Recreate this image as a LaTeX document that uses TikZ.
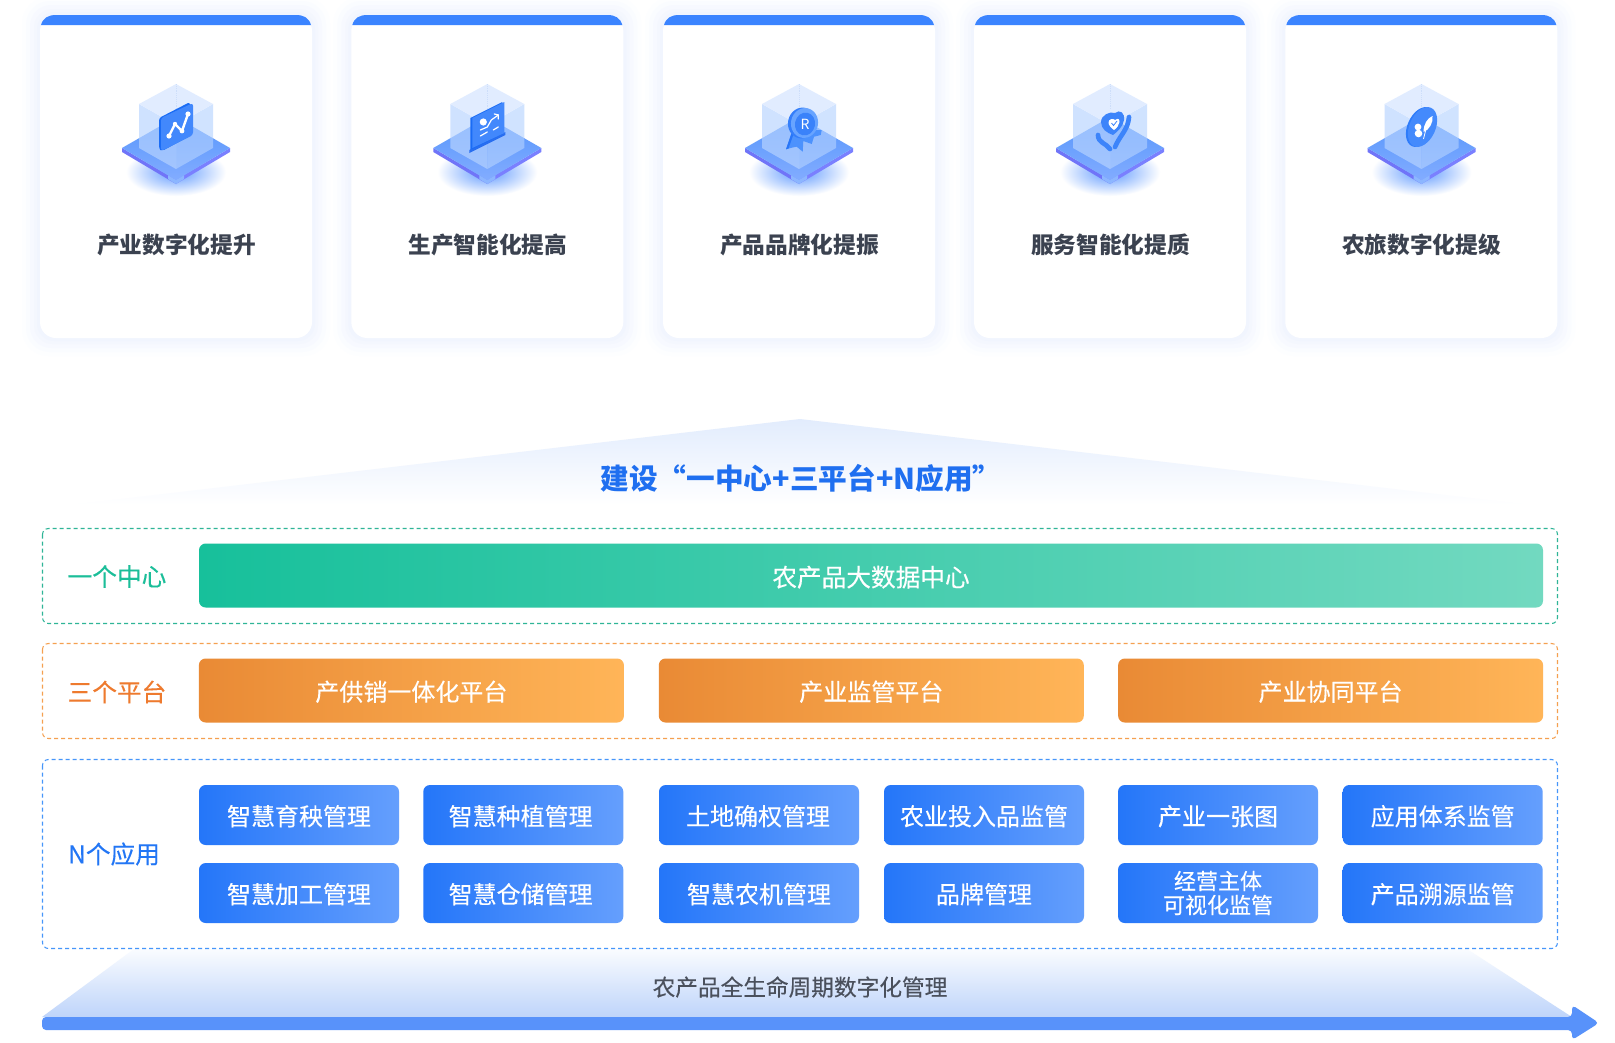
\documentclass[tikz,border=0pt]{standalone}
\usepackage{fontspec}
\setmainfont{Noto Sans CJK SC}
\newfontfamily\medfont{Noto Sans CJK SC}[FakeBold=0.25]
\pgfdeclareradialshading{plateglow}{\pgfpointorigin}{rgb(0bp)=(0.37,0.6,1); rgb(25bp)=(1,1,1); rgb(50bp)=(1,1,1)}
\newcommand{\cardbox}[1]{\begin{scope}[shift={(#1,0)}]
    \fill [fill={rgb, 255:red, 253; green, 254; blue, 255 }, rounded corners=20pt] (-18,-3) rectangle (290,356);
    \fill [fill={rgb, 255:red, 250; green, 252; blue, 255 }, rounded corners=18pt] (-14,1) rectangle (286,352);
    \fill [fill={rgb, 255:red, 247; green, 249; blue, 255 }, rounded corners=16pt] (-10,5) rectangle (282,348);
    \fill [fill={rgb, 255:red, 244; green, 247; blue, 254 }, rounded corners=14pt] (-6,9) rectangle (278,344);
    \fill [fill={rgb, 255:red, 241; green, 245; blue, 254 }, rounded corners=13pt] (-3,12) rectangle (275,341);
    \fill [white, rounded corners=12pt] (0,15) rectangle (272,338);
    \fill [fill={rgb, 255:red, 59; green, 132; blue, 255 }] (1,25) .. controls (3,18) and (8,15) .. (16,15) -- (256,15) .. controls (264,15) and (269,18) .. (271,25) -- cycle;
\end{scope}}
\newcommand{\isobase}[1]{\begin{scope}[shift={(#1,0)}]
    %Shape: plate shadow
    \shade [shading=plateglow] (0,172) ellipse (50 and 24);
    %Shape: plate
    \fill [fill={rgb, 255:red, 112; green, 116; blue, 248 }] (-54,148) -- (0,180) -- (0,184) -- (-54,152) -- cycle;
    \fill [fill={rgb, 255:red, 122; green, 128; blue, 255 }] (54,148) -- (0,180) -- (0,184) -- (54,152) -- cycle;
    \fill [fill={rgb, 255:red, 140; green, 182; blue, 255 }] (-8,175) -- (0,180) -- (8,175) -- (8,179) -- (0,184) -- (-8,179) -- cycle;
    \shade [top color={rgb, 255:red, 86; green, 150; blue, 252 }, bottom color={rgb, 255:red, 130; green, 172; blue, 255 }] (-54,148) -- (0,117) -- (54,148) -- (0,180) -- cycle;
    %Shape: cube faces
    \fill [fill={rgb, 255:red, 184; green, 212; blue, 255 }, fill opacity=0.67] (-37,104) -- (0,125) -- (0,169) -- (-37,148) -- cycle;
    \fill [fill={rgb, 255:red, 180; green, 210; blue, 255 }, fill opacity=0.62] (37,104) -- (0,125) -- (0,169) -- (37,148) -- cycle;
    \fill [fill={rgb, 255:red, 224; green, 236; blue, 255 }, fill opacity=0.95] (0,84) -- (37,104) -- (0,125) -- (-37,104) -- cycle;
    \draw [color={rgb, 255:red, 205; green, 222; blue, 250 }, densely dotted] (0,84) -- (0,110);
\end{scope}}
\newcommand{\charttile}[1]{\begin{scope}[shift={(#1,0)}]
    \fill [fill={rgb, 255:red, 26; green, 108; blue, 245 }, rounded corners=2pt] (-17,118) -- (14,102) -- (14,136) -- (-14,151) -- (-17,149) -- cycle;
    \fill [fill={rgb, 255:red, 66; green, 136; blue, 252 }, rounded corners=2pt] (-15,118) -- (17,103) -- (17,135) -- (-15,151) -- cycle;
    \draw [white, line width=1.8pt, line cap=round, line join=round] (-7,136) -- (-1,124) -- (6,131) -- (12,114);
    \fill [white] (-7,136) circle (2.6);
    \fill [white] (6,131) circle (2.4);
    \fill [white] (-1,124) circle (2.2);
    \fill [white] (12,114) circle (2.6);
\end{scope}}
\newcommand{\boardtile}[1]{\begin{scope}[shift={(#1,0)}]
    \fill [fill={rgb, 255:red, 40; green, 110; blue, 240 }] (-18,150) -- (18,132) -- (18,135) -- (-18,153) -- cycle;
    \fill [fill={rgb, 255:red, 26; green, 108; blue, 245 }] (-17,118) -- (15,102) -- (15,134) -- (-17,150) -- cycle;
    \fill [fill={rgb, 255:red, 66; green, 136; blue, 252 }] (-15,118) -- (17,102) -- (17,133) -- (-15,148) -- cycle;
    \fill [white] (-4,122) circle (3.6);
    \draw [white, line width=0.9pt, line cap=round, line join=round] (-7,130) -- (0,127) -- (4,120) -- (11,115);
    \draw [white, line width=0.9pt, line cap=round] (7,114) -- (11,115) -- (11,119);
    \draw [white, line width=0.9pt, line cap=round] (-7,136) -- (0,132);
    \draw [white, line width=0.9pt, line cap=round] (6,130) -- (11,127);
\end{scope}}
\newcommand{\medaltile}[1]{\begin{scope}[shift={(#1,0)}]
    \fill [fill={rgb, 255:red, 76; green, 146; blue, 253 }] (-13,149.3) -- (-5.7,130) -- (22.7,130) -- (21.7,135) -- (15,136.7) -- (12.7,144) -- (4.3,141) -- (3.7,151.7) -- (-2.3,146.7) -- (-7.3,147.7) -- cycle;
    \fill [fill={rgb, 255:red, 40; green, 118; blue, 248 }] (-13,149.3) -- (-6.5,130) -- (-4,130) -- (-10.5,148.5) -- cycle;
    \fill [fill={rgb, 255:red, 52; green, 126; blue, 250 }, rotate around={12:(3,123)}] (3,123) ellipse (14 and 15.5);
    \fill [fill={rgb, 255:red, 104; green, 164; blue, 255 }, rotate around={12:(5.5,123)}] (5.5,123) ellipse (13.5 and 15);
    \fill [fill={rgb, 255:red, 58; green, 130; blue, 250 }, rotate around={12:(6,124)}] (6,124) ellipse (10 and 11.5);
\end{scope}}
\newcommand{\hearttile}[1]{\begin{scope}[shift={(#1,0)}]
    \draw [color={rgb, 255:red, 60; green, 132; blue, 250 }, line width=3.5pt, line cap=round] (19,117) .. controls (18,130) and (10,135) .. (5,147);
    \draw [color={rgb, 255:red, 60; green, 132; blue, 250 }, line width=3.5pt, line cap=round] (-12,135) .. controls (-12,143) and (-4,143) .. (0,149);
    \fill [fill={rgb, 255:red, 60; green, 132; blue, 250 }] (5,113) .. controls (10,109) and (15,113) .. (14,120) .. controls (13,127) and (7,132) .. (3,135) .. controls (-3,133) and (-9,129) .. (-9,122) .. controls (-9,115) and (0,111) .. (5,113) -- cycle;
    \fill [white] (5,120) .. controls (6,118) and (10,118) .. (9.5,122) .. controls (9,125) and (7,128) .. (4,130) .. controls (1,128) and (-1.5,125) .. (-1.5,122.5) .. controls (-1.5,119) and (3,118) .. (5,120) -- cycle;
    \draw [color={rgb, 255:red, 60; green, 132; blue, 250 }, line width=0.6pt] (1.5,123) -- (3.5,125.5) -- (7,121);
\end{scope}}
\newcommand{\leaftile}[1]{\begin{scope}[shift={(#1,0)}]
    \fill [fill={rgb, 255:red, 46; green, 124; blue, 250 }, rotate around={24:(-1,127)}] (-1,127) ellipse (13 and 21);
    \fill [fill={rgb, 255:red, 68; green, 138; blue, 252 }, rotate around={24:(1,127)}] (1,127) ellipse (13 and 21);
    \draw [white, line width=0.6pt] (2,139) -- (5,127) -- (9,118);
    \fill [white] (2,132) .. controls (2,124) and (6,118) .. (11,116) .. controls (12,122) and (8,130) .. (2,132) -- cycle;
    \fill [white] (-3.5,127) circle (3.4);
    \fill [white] (-3,133.5) circle (3.8);
\end{scope}}
\tikzset{
  cardtitle/.style={font=\fontsize{17}{20}\selectfont\bfseries, text={rgb, 255:red, 59; green, 66; blue, 80 }, inner sep=0pt},
  layerlabel/.style={font=\fontsize{18.5}{22}\medfont, inner sep=0pt},
  databar/.style={rounded corners=5pt, inner sep=0pt, minimum height=48pt, text=white, font=\fontsize{18}{22}\medfont},
  oneline/.style={text height=15.5pt, text depth=0pt},
  greenbar/.style={databar, oneline, minimum width=1008pt, font=\fontsize{18.5}{22}\medfont, left color={rgb, 255:red, 23; green, 192; blue, 155 }, right color={rgb, 255:red, 114; green, 217; blue, 192 }},
  orangebar/.style={databar, oneline, minimum width=318.75pt, left color={rgb, 255:red, 233; green, 138; blue, 53 }, right color={rgb, 255:red, 255; green, 181; blue, 88 }},
  appbar/.style={databar, minimum width=150pt, minimum height=45pt, align=center, left color={rgb, 255:red, 36; green, 118; blue, 249 }, right color={rgb, 255:red, 101; green, 159; blue, 253 }},
  dashbox/.style={dash pattern=on 3pt off 2.25pt, line width=0.8pt, rounded corners=4.5pt},
}

\begin{document}
\begin{tikzpicture}[x=0.75pt,y=0.75pt,yscale=-1,xscale=1]
\useasboundingbox (0,0) rectangle (1615,1042);
\fill [white] (0,0) rectangle (1615,1042);

%Shape: Cards
\cardbox{40}
\cardbox{351.3}
\cardbox{663}
\cardbox{974}
\cardbox{1285.3}

%Shape: Icons
\isobase{176}
\charttile{176}
\isobase{487.3}
\boardtile{487.3}
\isobase{799}
\medaltile{799}
\isobase{1110}
\hearttile{1110}
\isobase{1421.5}
\leaftile{1421.5}

% Text Node
\draw (805,124) node (medalR) [text=white, inner sep=0pt, font=\fontsize{10.5}{12}\selectfont] {R};
% Text Node
\draw (176.5,245) node (titleA) [cardtitle] {产业数字化提升};
% Text Node
\draw (487.8,245) node (titleB) [cardtitle] {生产智能化提高};
% Text Node
\draw (799.5,245) node (titleC) [cardtitle] {产品品牌化提振};
% Text Node
\draw (1110.5,245) node (titleD) [cardtitle] {服务智能化提质};
% Text Node
\draw (1421.5,245) node (titleE) [cardtitle] {农旅数字化提级};

%Shape: Upper triangle
\shade [top color={rgb, 255:red, 226; green, 236; blue, 253 }, bottom color=white] (800,419) -- (1530,505) -- (70,505) -- cycle;
% Text Node
\draw (801,478) node (buildTitle) [inner sep=0pt, font=\fontsize{21.5}{25}\selectfont\bfseries, text={rgb, 255:red, 31; green, 111; blue, 240 }] {建设“一中心+三平台+N应用”};

%Shape: Lower trapezoid
\shade [top color={rgb, 255:red, 250; green, 252; blue, 255 }, bottom color={rgb, 255:red, 190; green, 212; blue, 250 }] (134,949) -- (1467,949) -- (1572,1017) -- (42,1017) -- cycle;

%Shape: Dashed frames
\draw [dashbox, color={rgb, 255:red, 47; green, 181; blue, 151 }] (42.5,528.5) rectangle (1557.5,623.5);
\draw [dashbox, color={rgb, 255:red, 245; green, 160; blue, 80 }] (42.5,643.5) rectangle (1557.5,738.5);
\draw [dashbox, color={rgb, 255:red, 70; green, 150; blue, 250 }] (42.5,759.5) rectangle (1557.5,948.5);

% Text Node
\draw (117,576.5) node (centerLabel) [layerlabel, text={rgb, 255:red, 27; green, 190; blue, 153 }] {一个中心};
% Text Node
\draw (117,692) node (platformLabel) [layerlabel, text={rgb, 255:red, 238; green, 122; blue, 46 }] {三个平台};
% Text Node
\draw (114,854) node (appLabel) [layerlabel, text={rgb, 255:red, 34; green, 118; blue, 245 }] {N个应用};

% Text Node
\draw (871,575.5) node (dataCenter) [greenbar, text height=16.5pt] {农产品大数据中心};
% Text Node
\draw (411.4,690.5) node (supplyBar) [orangebar] {产供销一体化平台};
% Text Node
\draw (871.3,690.5) node (superviseBar) [orangebar] {产业监管平台};
% Text Node
\draw (1330.6,690.5) node (cooperateBar) [orangebar] {产业协同平台};

% Text Node
\draw (299,815) node (appA) [appbar, oneline] {智慧育秧管理};
% Text Node
\draw (523.3,815) node (appB) [appbar, oneline] {\hspace{-4pt}智慧种植管理};
% Text Node
\draw (759,815) node (appC) [appbar, oneline] {\hspace{-1.5pt}土地确权管理};
% Text Node
\draw (984,815) node (appD) [appbar, oneline] {农业投入品监管};
% Text Node
\draw (1218,815) node (appE) [appbar, oneline] {产业一张图};
% Text Node
\draw (1442.7,815) node (appF) [appbar, oneline] {应用体系监管};
% Text Node
\draw (299,893) node (appG) [appbar, oneline] {智慧加工管理};
% Text Node
\draw (523.3,893) node (appH) [appbar, oneline] {\hspace{-4pt}智慧仓储管理};
% Text Node
\draw (759,893) node (appI) [appbar, oneline] {智慧农机管理};
% Text Node
\draw (984,893) node (appJ) [appbar, oneline] {品牌管理};
% Text Node
\draw (1218,893) node (appK) [appbar, font=\fontsize{16.5}{18}\medfont] {经营主体\\可视化监管};
% Text Node
\draw (1442.7,893) node (appL) [appbar, oneline] {产品溯源监管};

%Shape: Arrow
\fill [fill={rgb, 255:red, 88; green, 146; blue, 250 }, rounded corners=3pt] (42,1017) -- (1572,1017) -- (1572,1005) -- (1599,1023) -- (1572,1040) -- (1572,1030) -- (42,1030) -- cycle;

% Text Node
\draw (800,987) node (lifeCycle) [inner sep=0pt, font=\fontsize{17}{20}\medfont, text={rgb, 255:red, 74; green, 80; blue, 92 }] {农产品全生命周期数字化管理};

\end{tikzpicture}
\end{document}
